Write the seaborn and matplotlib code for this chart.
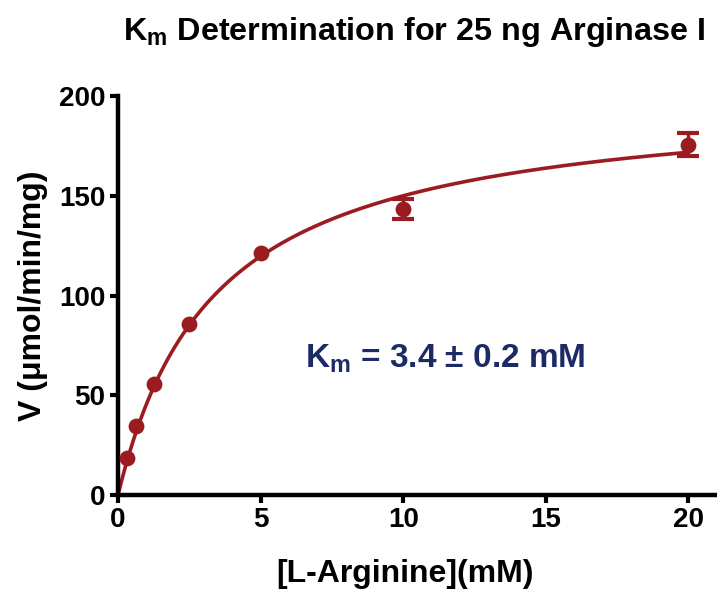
import numpy as np
import pandas as pd
import matplotlib
matplotlib.use("Agg")
import matplotlib.pyplot as plt
import seaborn as sns

# measured points (mM L-arginine vs specific activity)
substrate_mM = [0.3125, 0.625, 1.25, 2.5, 5, 10, 20]
velocity = [18.7, 34.4, 55.5, 85.8, 121.2, 143.3, 175.5]
velocity_sem = [0, 0, 0, 0, 0, 5.2, 5.8]

# Michaelis-Menten fit parameters
vmax = 201.0
km = 3.4

x_ticks = [0, 5, 10, 15, 20]
y_ticks = [0, 50, 100, 150, 200]

red = "#9b1c20"
navy = "#1c2a66"

sns.set_style("ticks", {"axes.edgecolor": "black", "xtick.color": "black",
                        "ytick.color": "black", "text.color": "black",
                        "axes.labelcolor": "black"})
plt.rcParams["font.family"] = ["Liberation Sans", "DejaVu Sans"]
plt.rcParams["font.weight"] = "bold"
plt.rcParams["mathtext.fontset"] = "custom"
plt.rcParams["mathtext.rm"] = "Liberation Sans:bold"
plt.rcParams["mathtext.bf"] = "Liberation Sans:bold"

df = pd.DataFrame({"S": substrate_mM, "V": velocity, "err": velocity_sem})

s_fit = np.linspace(0, 20, 300)
fit = pd.DataFrame({"S": s_fit, "V": vmax * s_fit / (km + s_fit)})

fig = plt.figure(figsize=(7.17, 5.89), dpi=100)
ax = fig.add_axes([0.1646, 0.1596, 0.8354, 0.6774])

sns.lineplot(data=fit, x="S", y="V", color=red, linewidth=2.6, ax=ax)
err = df[df["err"] > 0]
ax.errorbar(err["S"], err["V"], yerr=err["err"], fmt="none", ecolor=red,
            elinewidth=2.5, capsize=8, capthick=3, zorder=3)
sns.scatterplot(data=df, x="S", y="V", color=red, s=130, edgecolor=red,
                linewidth=0, zorder=4, ax=ax)

ax.set_xlim(0, 21.0)
ax.set_ylim(0, 200)
ax.set_xticks(x_ticks)
ax.set_yticks(y_ticks)
ax.tick_params(width=3, length=6, labelsize=20, pad=3, colors="black")
for lab in ax.get_xticklabels() + ax.get_yticklabels():
    lab.set_fontweight("bold")
for side in ["left", "bottom"]:
    ax.spines[side].set_linewidth(3.2)
    ax.spines[side].set_color("black")
sns.despine(ax=ax)
ax.spines["left"].set_bounds(0, 200)

ax.set_xlabel("[L-Arginine](mM)", fontsize=23, fontweight="bold", color="black")
ax.xaxis.set_label_coords(0.479, -0.16)
ax.set_ylabel("V (\u03bcmol/min/mg)", fontsize=23, fontweight="bold", labelpad=8,
              color="black")

fig.text(0.171, 0.946, r"K$_{\mathbf{m}}$ Determination for 25 ng Arginase I",
         fontsize=23.3, fontweight="bold", ha="left", va="center", color="black")
ax.text(6.55, 68.5, r"K$_{\mathbf{m}}$ = 3.4 $\pm$ 0.2 mM", color=navy,
        fontsize=24, fontweight="bold", ha="left", va="center")

plt.savefig("out.png", dpi=100)
